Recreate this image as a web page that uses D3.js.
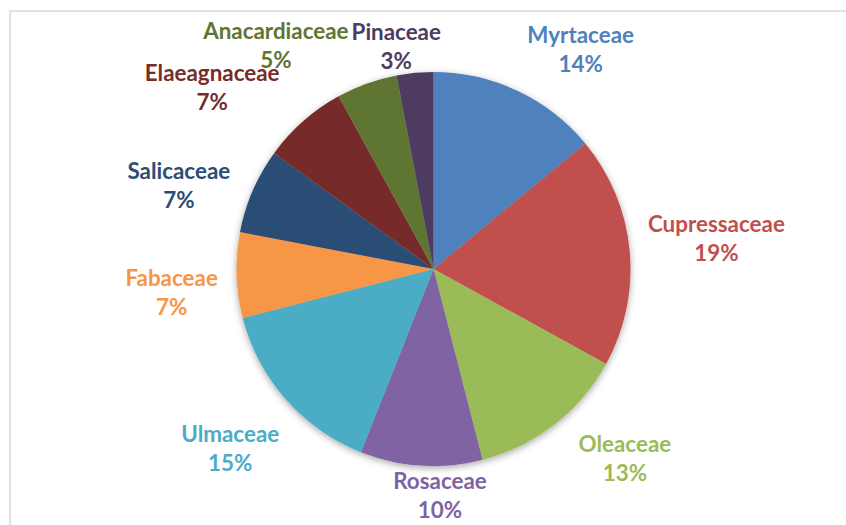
<!DOCTYPE html>
<html>
<head>
<meta charset="utf-8">
<script src="https://cdn.jsdelivr.net/npm/d3@7"></script>
<style>
  html, body { margin: 0; padding: 0; background: #fff; }
  svg { display: block; }
  .lbl { font-family: Lato, "Open Sans", sans-serif; font-weight: bold; font-size: 22.4px; }
</style>
</head>
<body>
<div id="chart"></div>
<script>
// data, clockwise from 12 o'clock
var families = ["Myrtaceae", "Cupressaceae", "Oleaceae", "Rosaceae", "Ulmaceae",
                "Fabaceae", "Salicaceae", "Elaeagnaceae", "Anacardiaceae", "Pinaceae"];
var shares = [14, 19, 13, 10, 15, 7, 7, 7, 5, 3];
var colors = ["#4F81BD", "#C0504D", "#9BBB59", "#8064A2", "#4BACC6",
              "#F79646", "#2C4D75", "#772C2A", "#5F7530", "#4D3B62"];

var width = 846, height = 525;
var cx = 433.5, cy = 269, radius = 197;

var svg = d3.select("#chart").append("svg")
    .attr("width", width)
    .attr("height", height);

// chart area frame (only top/left visible in the crop)
svg.append("rect")
    .attr("x", 10).attr("y", 11)
    .attr("width", width + 20).attr("height", height + 20)
    .attr("fill", "none")
    .attr("stroke", "#d9d9d9")
    .attr("stroke-width", 1.5);

var defs = svg.append("defs");
var f = defs.append("filter").attr("id", "shadow")
    .attr("x", "-20%").attr("y", "-20%").attr("width", "140%").attr("height", "140%");
f.append("feDropShadow")
    .attr("dx", 0).attr("dy", 2)
    .attr("stdDeviation", 3.5)
    .attr("flood-color", "#000")
    .attr("flood-opacity", 0.35);

var rows = families.map(function(d, i) { return { name: d, value: shares[i], color: colors[i] }; });

var pie = d3.pie().sort(null).value(function(d) { return d.value; });
var arc = d3.arc().innerRadius(0).outerRadius(radius);
var arcs = pie(rows);

var g = svg.append("g").attr("transform", "translate(" + cx + "," + cy + ")");

g.append("g").attr("filter", "url(#shadow)")
  .selectAll("path")
  .data(arcs)
  .enter()
  .append("path")
  .attr("d", arc)
  .attr("fill", function(d) { return d.data.color; });

// labels sit out past the rim; excel's "best fit" shoves them around, so nudge by hand
var labelR = radius + 50;
var nudge = {
  "Myrtaceae": [42, 5], "Cupressaceae": [37, -6], "Oleaceae": [40, -5], "Rosaceae": [22, -19],
  "Ulmaceae": [-18, 17], "Fabaceae": [-15, 17], "Salicaceae": [-28, 16], "Elaeagnaceae": [-58, 5],
  "Anacardiaceae": [-74, 10], "Pinaceae": [-14, 24]
};

var lineGap = 29;
var labels = g.selectAll("g.lbl")
  .data(arcs)
  .enter()
  .append("g")
  .attr("class", "lbl")
  .attr("fill", function(d) { return d.data.color; })
  .attr("transform", function(d) {
    var a = (d.startAngle + d.endAngle) / 2;
    var n = nudge[d.data.name];
    return "translate(" + (Math.sin(a) * labelR + n[0]) + "," + (-Math.cos(a) * labelR + n[1]) + ")";
  });

labels.append("text")
  .attr("text-anchor", "middle")
  .attr("y", -lineGap / 2 + 7)
  .text(function(d) { return d.data.name; });
labels.append("text")
  .attr("text-anchor", "middle")
  .attr("y", lineGap / 2 + 7)
  .text(function(d) { return d.data.value + "%"; });
</script>
</body>
</html>
